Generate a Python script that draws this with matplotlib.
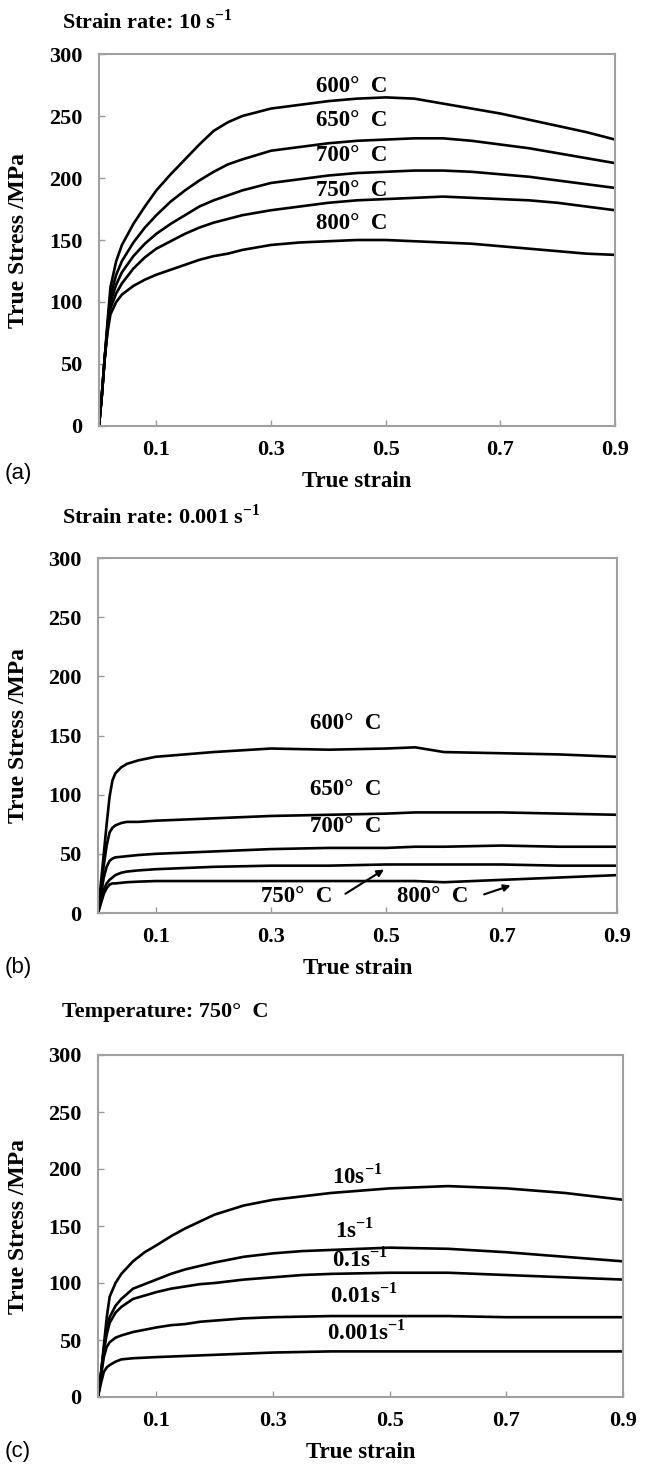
import numpy as np
from matplotlib import pyplot as plt

plt.rcParams['font.family'] = ['Liberation Serif', 'DejaVu Serif']
plt.rcParams['font.weight'] = 'bold'
plt.rcParams['axes.labelweight'] = 'bold'
plt.rcParams['mathtext.fontset'] = 'custom'
plt.rcParams['mathtext.rm'] = 'Liberation Serif:bold'
plt.rcParams['mathtext.bf'] = 'Liberation Serif:bold'

# (a) strain rate 10 s-1, curves per temperature
strain_a = [0, 0.005, 0.01, 0.015, 0.02, 0.03, 0.04, 0.06, 0.08, 0.1, 0.125, 0.15, 0.175, 0.2, 0.225,
            0.25, 0.3, 0.35, 0.4, 0.45, 0.5, 0.55, 0.6, 0.65, 0.7, 0.75, 0.8, 0.85, 0.9]
stress_a = {
    "600": [0, 25, 55, 85, 112, 133, 146, 163, 177, 190, 203, 215, 227, 238, 245,
            250, 256, 259, 262, 264, 265, 264, 260, 256, 252, 247, 242, 237, 231],
    "650": [0, 25, 55, 82, 105, 122, 133, 148, 160, 170, 181, 190, 198, 205, 211,
            215, 222, 225, 228, 230, 231, 232, 232, 230, 227, 224, 220, 216, 212],
    "700": [0, 25, 55, 80, 100, 114, 124, 137, 147, 155, 163, 170, 177, 182, 186,
            190, 196, 199, 202, 204, 205, 206, 206, 205, 203, 201, 198, 195, 192],
    "750": [0, 25, 55, 78, 95, 107, 115, 127, 136, 143, 149, 155, 160, 164, 167,
            170, 174, 177, 180, 182, 183, 184, 185, 184, 183, 182, 180, 177, 174],
    "800": [0, 25, 55, 76, 90, 100, 106, 113, 118, 122, 126, 130, 134, 137, 139,
            142, 146, 148, 149, 150, 150, 149, 148, 147, 145, 143, 141, 139, 138],
}
labels_a = ["600°  C", "650°  C", "700°  C", "750°  C", "800°  C"]
label_pos_a = [(0.44, 274), (0.44, 246), (0.44, 218), (0.44, 190), (0.44, 163)]

# (b) strain rate 0.001 s-1
strain_b = [0, 0.005, 0.01, 0.015, 0.02, 0.025, 0.03, 0.04, 0.05, 0.07, 0.1, 0.15, 0.2, 0.3,
            0.4, 0.5, 0.55, 0.6, 0.7, 0.8, 0.9]
stress_b = {
    "600": [0, 25, 50, 75, 98, 112, 118, 123, 126, 129, 132, 134, 136, 139, 138, 139, 140, 136, 135, 134, 132],
    "650": [0, 20, 40, 57, 68, 72, 74, 76, 77, 77, 78, 79, 80, 82, 83, 84, 85, 85, 85, 84, 83],
    "700": [0, 15, 30, 39, 44, 46, 47, 47.5, 48, 49, 50, 51, 52, 54, 55, 55, 56, 56, 57, 56, 56],
    "750": [0, 10, 20, 25, 28, 30, 32, 34, 35, 36, 37, 38, 39, 40, 40, 41, 41, 41, 41, 40, 40],
    "800": [0, 8, 16, 21, 24, 25, 25, 25.5, 26, 26.5, 27, 27, 27, 27, 27, 27, 27, 26, 28, 30, 32],
}
labels_b = ["600°  C", "650°  C", "700°  C"]
label_pos_b = [(0.43, 160), (0.43, 104), (0.43, 73)]

# (c) 750 C, curves per strain rate
strain_c = [0, 0.005, 0.01, 0.015, 0.02, 0.03, 0.04, 0.06, 0.08, 0.1, 0.125, 0.15, 0.175, 0.2,
            0.25, 0.3, 0.35, 0.4, 0.5, 0.6, 0.7, 0.8, 0.9]
stress_c = {
    "10": [0, 20, 45, 70, 88, 100, 108, 119, 127, 133, 141, 148, 154, 160, 168, 173, 176, 179, 183, 185, 183, 179, 173],
    "1": [0, 20, 42, 60, 70, 80, 86, 95, 99, 103, 108, 112, 115, 118, 123, 126, 128, 129, 131, 130, 127, 123, 119],
    "0.1": [0, 20, 40, 55, 65, 74, 79, 86, 89, 92, 95, 97, 99, 100, 103, 105, 107, 108, 109, 109, 107, 105, 103],
    "0.01": [0, 18, 35, 44, 48, 52, 54, 57, 59, 61, 63, 64, 66, 67, 69, 70, 70.5, 71, 71, 71, 70, 70, 70],
    "0.001": [0, 12, 22, 26, 28, 31, 33, 34, 34.5, 35, 35.5, 36, 36.5, 37, 38, 39, 39.5, 40, 40, 40, 40, 40, 40],
}
labels_c = ["10s$^{-1}$", "1s$^{-1}$", "0.1s$^{-1}$", "0.01s$^{-1}$", "0.001s$^{-1}$"]
label_pos_c = [(0.445, 194), (0.44, 146), (0.45, 121), (0.455, 89), (0.46, 57)]

xticks = [0.1, 0.3, 0.5, 0.7, 0.9]
yticks = [0, 50, 100, 150, 200, 250, 300]

W, H = 645, 1470
fig = plt.figure(figsize=(6.45, 14.7), dpi=100)

# axes boxes in pixels: left, right, top, bottom
boxes_px = [(99, 615, 54, 426), (98, 617, 558, 913), (98, 623, 1055, 1397)]
titles = ["Strain rate: 10 s$^{-1}$", "Strain rate: 0.001 s$^{-1}$", "Temperature: 750°  C"]
title_y = [22, 517, 1012]
tags = ["(a)", "(b)", "(c)"]
tag_y = [474, 968, 1452]

axes = []
for i, (l, r, t, b) in enumerate(boxes_px):
    ax = fig.add_axes([l / W, 1 - b / H, (r - l) / W, (b - t) / H])
    ax.set_xlim(0, 0.9)
    ax.set_ylim(0, 300)
    ax.set_xticks(xticks)
    ax.set_yticks(yticks)
    ax.set_xticklabels([str(v) for v in xticks])
    ax.tick_params(direction='in', length=4, width=1, color='#999999', labelsize=16)
    ax.tick_params(axis='x', pad=10)
    ax.tick_params(axis='y', pad=12)
    for s in ax.spines.values():
        s.set_color('#a0a0a0')
        s.set_linewidth(1.5)
    ax.set_xlabel("True strain", fontsize=16.5, labelpad=8)
    ax.set_ylabel("True Stress /MPa", fontsize=17)
    ax.yaxis.set_label_coords((29 - l) / (r - l), 0.5)
    fig.text(62 / W, 1 - title_y[i] / H, titles[i], fontsize=16, va='center', ha='left')
    fig.text(5 / W, 1 - tag_y[i] / H, tags[i], fontsize=16, va='center', ha='left',
             family='Liberation Sans', weight='normal')
    axes.append(ax)

ax = axes[0]
for key in stress_a:
    ax.plot(strain_a, stress_a[key], color='black', lw=1.9)
for lab, (x, y) in zip(labels_a, label_pos_a):
    ax.text(x, y, lab, fontsize=16.5, ha='center', va='center')

ax = axes[1]
for key in stress_b:
    ax.plot(strain_b, stress_b[key], color='black', lw=1.9)
for lab, (x, y) in zip(labels_b, label_pos_b):
    ax.text(x, y, lab, fontsize=16.5, ha='center', va='center')
ax.text(0.345, 14, "750°  C", fontsize=16.5, ha='center', va='center')
ax.annotate('', xy=(0.5, 38), xytext=(0.425, 15),
            arrowprops=dict(arrowstyle='-|>', lw=1.5, color='black'))
ax.text(0.58, 14, "800°  C", fontsize=16.5, ha='center', va='center')
ax.annotate('', xy=(0.72, 24), xytext=(0.665, 15),
            arrowprops=dict(arrowstyle='-|>', lw=1.5, color='black'))

ax = axes[2]
for key in stress_c:
    ax.plot(strain_c, stress_c[key], color='black', lw=1.9)
for lab, (x, y) in zip(labels_c, label_pos_c):
    ax.text(x, y, lab, fontsize=16.5, ha='center', va='center')

fig.savefig("out.png", dpi=100)
